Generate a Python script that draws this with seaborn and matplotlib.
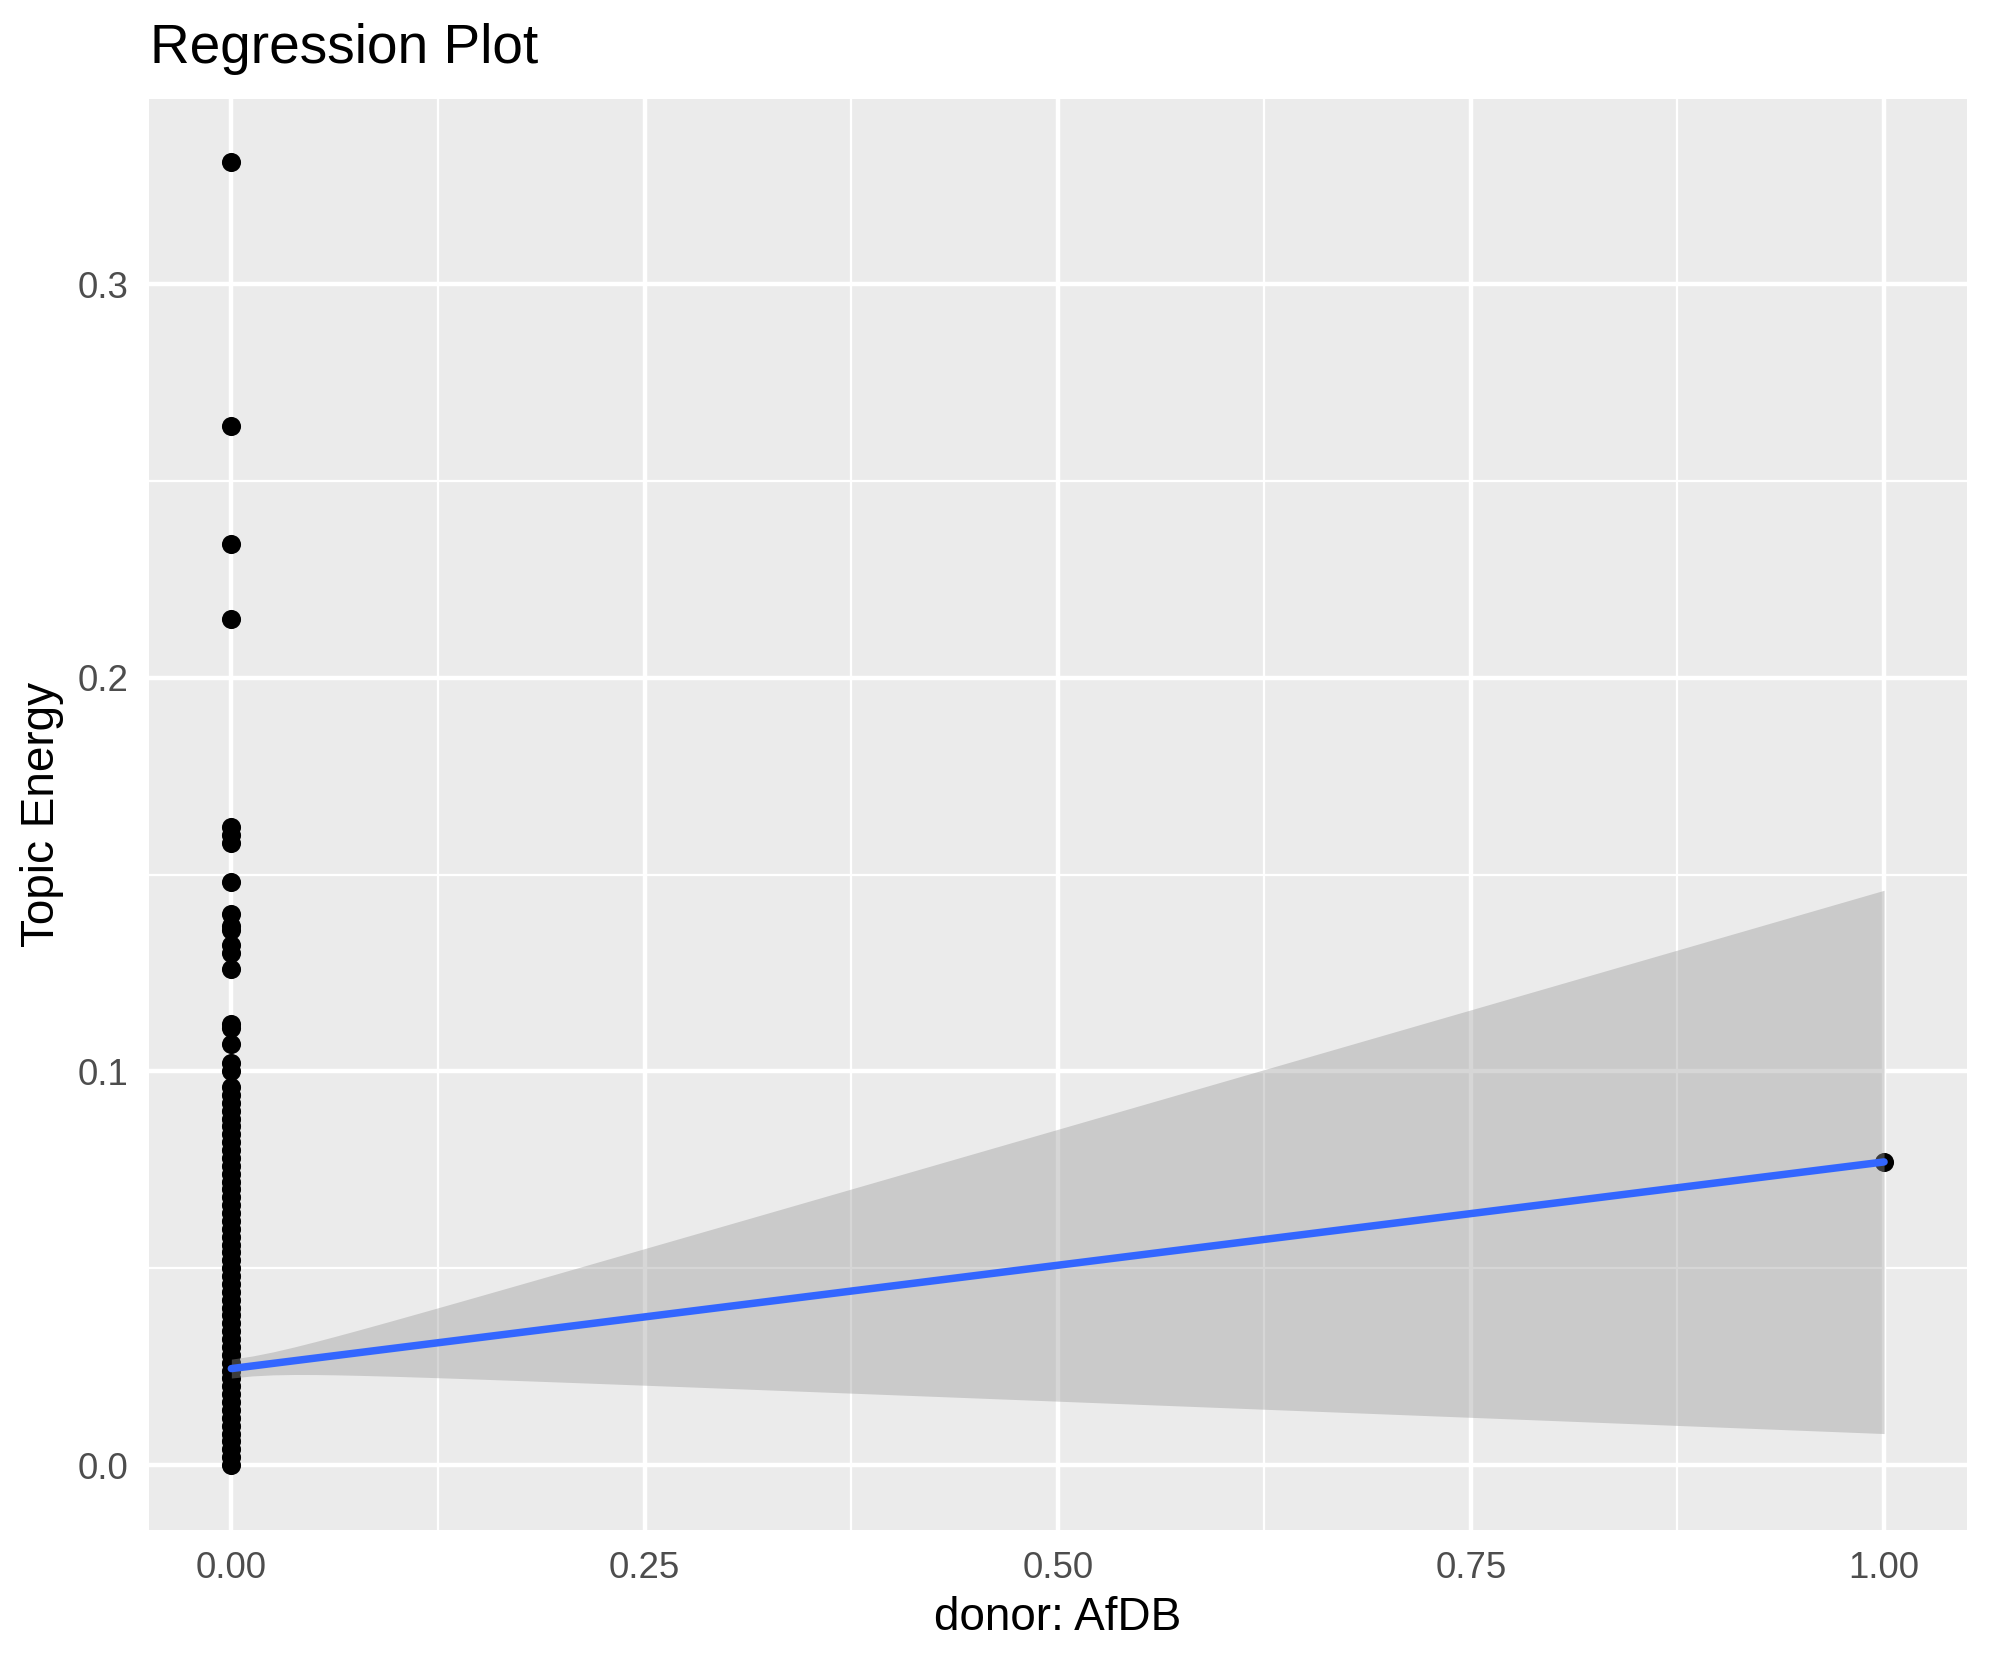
import numpy as np
import pandas as pd
import matplotlib
matplotlib.use("Agg")
import matplotlib.pyplot as plt
from matplotlib.ticker import MultipleLocator, FixedLocator
import seaborn as sns

# values
# donor == 0: the clearly separated points, then the dense column (0 .. ~0.096)
y_donor0_sparse = [0.331, 0.264, 0.234, 0.215, 0.162, 0.160, 0.158, 0.148, 0.140,
                   0.137, 0.136, 0.132, 0.130, 0.126, 0.112, 0.111, 0.107, 0.102, 0.100]
y_donor0_dense = [0.096, 0.094, 0.092, 0.090, 0.088, 0.086, 0.084, 0.082, 0.080,
                  0.078, 0.076, 0.074, 0.072, 0.070, 0.068, 0.066, 0.064, 0.062,
                  0.060, 0.058, 0.056, 0.054, 0.052, 0.050, 0.048, 0.046, 0.044,
                  0.042, 0.040, 0.038, 0.036, 0.034, 0.032, 0.030, 0.028, 0.026,
                  0.024, 0.022, 0.020, 0.018, 0.016, 0.014, 0.012, 0.010, 0.008,
                  0.006, 0.004, 0.002, 0.000]
y_donor1 = [0.077]

# fitted lm: value and 95% half-width at x = 0 and x = 1
fit_x = [0.0, 1.0]
fit_y = [0.0245, 0.077]
ci_half = [0.0024, 0.069]

X_TICKS = [0.00, 0.25, 0.50, 0.75, 1.00]
Y_TICKS = [0.0, 0.1, 0.2, 0.3]

y0 = y_donor0_sparse + y_donor0_dense
df = pd.DataFrame({"donor": [0.0] * len(y0) + [1.0] * len(y_donor1),
                   "energy": y0 + y_donor1})

sns.set_theme(style="darkgrid", rc={
    "axes.facecolor": "#EBEBEB",
    "grid.color": "white",
    "axes.edgecolor": "#EBEBEB",
})
plt.rcParams["font.family"] = ["Liberation Sans", "DejaVu Sans"]

fig = plt.figure(figsize=(1990 / 300, 1665 / 300), dpi=300)
ax = fig.add_axes([148.7 / 1990, 1 - 1530 / 1665, (1966.7 - 148.7) / 1990, (1530 - 99) / 1665])

sns.scatterplot(data=df, x="donor", y="energy", color="black", s=21,
                linewidth=0, ax=ax, zorder=3)

# confidence band of the linear fit (two-group design: se combines the two ends)
xs = np.linspace(fit_x[0], fit_x[1], 80)
ys = fit_y[0] + (fit_y[1] - fit_y[0]) * xs
half = np.sqrt((ci_half[0] * (1 - xs)) ** 2 + (ci_half[1] * xs) ** 2)
ax.fill_between(xs, ys - half, ys + half, color="#999999", alpha=0.4,
                linewidth=0, zorder=4)
sns.lineplot(x=fit_x, y=fit_y, color="#3366FF", linewidth=1.8, ax=ax, zorder=5)

ax.set_xlim(-0.05, 1.05)
ax.set_ylim(-0.0165, 0.347)
ax.xaxis.set_major_locator(FixedLocator(X_TICKS))
ax.yaxis.set_major_locator(FixedLocator(Y_TICKS))
ax.xaxis.set_minor_locator(MultipleLocator(0.125))
ax.yaxis.set_minor_locator(MultipleLocator(0.05))
ax.set_xticklabels([f"{t:.2f}" for t in X_TICKS])
ax.set_yticklabels([f"{t:.1f}" for t in Y_TICKS])

ax.grid(which="major", color="white", linewidth=1.07)
ax.grid(which="minor", color="white", linewidth=0.53)
ax.set_axisbelow(True)
for s in ax.spines.values():
    s.set_visible(False)

ax.tick_params(axis="both", which="major", length=2.75, width=1.07, color="#333333",
               labelsize=8.8, labelcolor="#4D4D4D", pad=2.2)
ax.tick_params(axis="both", which="minor", length=0)

ax.set_xlabel("donor: AfDB", fontsize=11, color="black")
ax.set_ylabel("Topic Energy", fontsize=11, color="black")
ax.xaxis.set_label_coords(0.5, (1530 - 1618) / (1530 - 99))
ax.xaxis.label.set_va("center")
ax.yaxis.set_label_coords((42 - 148.7) / (1966.7 - 148.7), 0.5)
ax.yaxis.label.set_va("center")

fig.text(150 / 1990, 1 - 63 / 1665, "Regression Plot", fontsize=13.2,
         ha="left", va="baseline", color="black")

fig.savefig("out.png", dpi=300)
